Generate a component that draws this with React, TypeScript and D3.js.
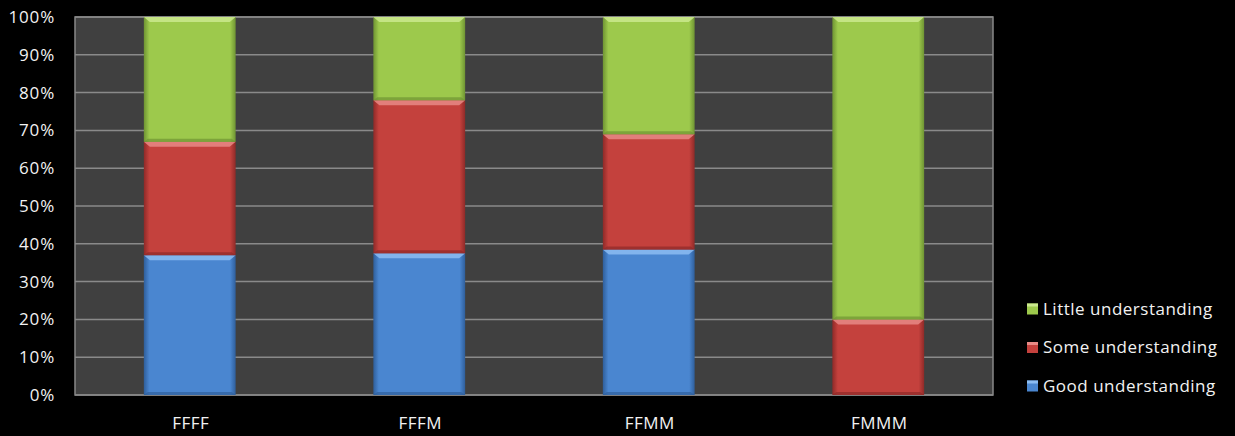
import { useEffect, useRef } from 'react'
import * as d3 from 'd3';

const categories = ["FFFF", "FFFM", "FFMM", "FMMM"];
const seriesNames = ["Good understanding", "Some understanding", "Little understanding"];
const goodValues = [37, 37.5, 38.5, 0];
const someValues = [30, 40.5, 30.5, 20];
const littleValues = [33, 22, 31, 80];
const tickLabels = ["0%", "10%", "20%", "30%", "40%", "50%", "60%", "70%", "80%", "90%", "100%"];

const colors = ["#4a86d0", "#c4413d", "#9dc94c"];
const darkColors = ["#2f5f9c", "#8f2a28", "#6f9433"];
const lightColors = ["#8cbcf2", "#e88a86", "#cbe98e"];

function App() {
    const ref = useRef(null);

    const width = 1235;
    const height = 436;

    useEffect(() => {
        const marginLeft = 75;
        const marginRight = 242;
        const marginTop = 17;
        const marginBottom = 41;
        const font = "'Open Sans', sans-serif";

        const svg = d3.select(ref.current);
        svg.selectAll("*").remove();

        svg.append("rect").attr("width", width).attr("height", height).attr("fill", "#000");

        const x = d3.scaleBand()
                    .domain(categories)
                    .range([marginLeft, width - marginRight])
                    .paddingInner(0.6)
                    .paddingOuter(0.3);

        const y = d3.scaleLinear()
                    .domain([0, 100])
                    .range([height - marginBottom, marginTop]);

        const defs = svg.append("defs");
        colors.forEach((c, i) => {
            const g = defs.append("linearGradient").attr("id", "grad" + i)
                          .attr("x1", 0).attr("x2", 1).attr("y1", 0).attr("y2", 0);
            g.append("stop").attr("offset", "0%").attr("stop-color", darkColors[i]);
            g.append("stop").attr("offset", "6%").attr("stop-color", c);
            g.append("stop").attr("offset", "94%").attr("stop-color", c);
            g.append("stop").attr("offset", "100%").attr("stop-color", darkColors[i]);
        });

        // plot area
        svg.append("rect")
           .attr("x", marginLeft)
           .attr("y", marginTop)
           .attr("width", width - marginRight - marginLeft)
           .attr("height", height - marginBottom - marginTop)
           .attr("fill", "#404040")
           .attr("stroke", "#888")
           .attr("stroke-width", 1.5);

        // gridlines
        svg.append("g")
           .selectAll("line")
           .data(d3.range(0, 101, 10))
           .join("line")
           .attr("x1", marginLeft)
           .attr("x2", width - marginRight)
           .attr("y1", d => y(d))
           .attr("y2", d => y(d))
           .attr("stroke", "#8a8a8a")
           .attr("stroke-width", 1.5);

        // y tick labels
        svg.append("g")
           .selectAll("text")
           .data(tickLabels)
           .join("text")
           .attr("x", 55)
           .attr("y", (d, i) => y(i * 10))
           .attr("dy", "0.35em")
           .attr("text-anchor", "end")
           .attr("fill", "#f2f2f2")
           .attr("font-family", font)
           .attr("font-size", 17)
           .attr("letter-spacing", 0.8)
           .text(d => d);

        const table = categories.map((c, i) => ({
            cat: c,
            good: goodValues[i],
            some: someValues[i],
            little: littleValues[i]
        }));
        const stacked = d3.stack().keys(["good", "some", "little"])(table);

        stacked.forEach((layer, si) => {
            const g = svg.append("g");
            layer.forEach((seg, ci) => {
                const h = y(seg[0]) - y(seg[1]);
                if (h <= 0) return;
                const bx = x(categories[ci]);
                const bw = x.bandwidth();
                const by = y(seg[1]);
                g.append("rect")
                 .attr("x", bx).attr("y", by)
                 .attr("width", bw).attr("height", h)
                 .attr("fill", `url(#grad${si})`);
                // top bevel highlight
                g.append("polygon")
                 .attr("points", [[bx, by], [bx + bw, by], [bx + bw - 6, by + 5], [bx + 6, by + 5]].map(p => p.join(",")).join(" "))
                 .attr("fill", lightColors[si])
                 .attr("opacity", 0.85);
                // bottom bevel shade
                g.append("polygon")
                 .attr("points", [[bx, by + h], [bx + bw, by + h], [bx + bw - 4, by + h - 3], [bx + 4, by + h - 3]].map(p => p.join(",")).join(" "))
                 .attr("fill", darkColors[si])
                 .attr("opacity", 0.7);
            });
        });

        // x labels
        svg.append("g")
           .selectAll("text")
           .data(categories)
           .join("text")
           .attr("x", d => x(d) + x.bandwidth() / 2 + 1)
           .attr("y", height - marginBottom + 28)
           .attr("dy", "0.35em")
           .attr("text-anchor", "middle")
           .attr("fill", "#f2f2f2")
           .attr("font-family", font)
           .attr("font-size", 17)
           .attr("letter-spacing", 0.5)
           .text(d => d);

        // legend
        const legendOrder = [2, 1, 0];
        const legend = svg.append("g");
        legendOrder.forEach((si, i) => {
            const ly = 309 + i * 38.5;
            legend.append("rect")
                  .attr("x", 1027).attr("y", ly - 5.5)
                  .attr("width", 11).attr("height", 11)
                  .attr("fill", colors[si]);
            legend.append("rect")
                  .attr("x", 1027).attr("y", ly - 5.5)
                  .attr("width", 11).attr("height", 3)
                  .attr("fill", lightColors[si]);
            legend.append("text")
                  .attr("x", 1043).attr("y", ly)
                  .attr("dy", "0.35em")
                  .attr("fill", "#f2f2f2")
                  .attr("font-family", font)
                  .attr("font-size", 17)
                  .attr("letter-spacing", 0.5)
                  .text(seriesNames[si]);
        });
    }, []);

    return (
        <svg ref={ref} width={width} height={height}
             style={{ position: "absolute", left: 0, top: 0, display: "block" }} />
    )
}

export default App;
